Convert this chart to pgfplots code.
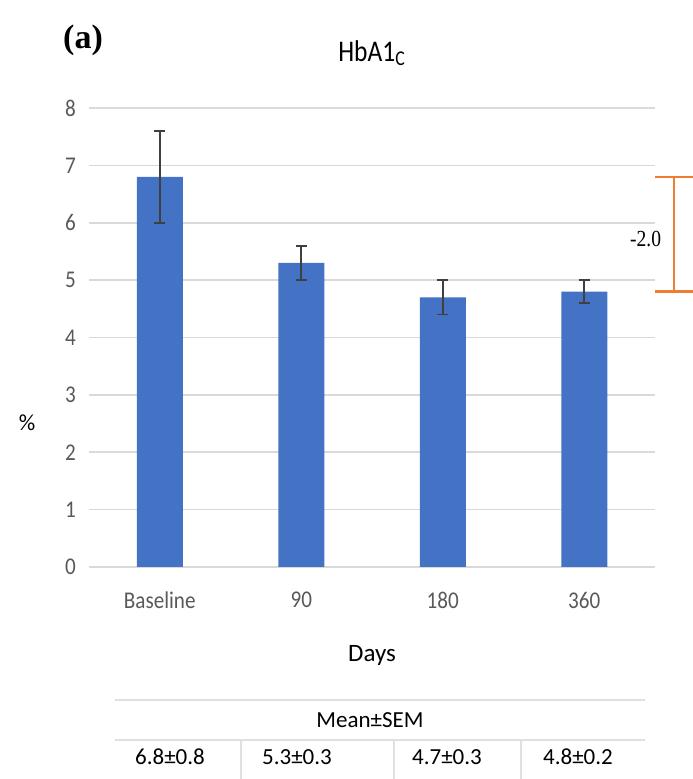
\documentclass[border=0pt]{standalone}
\usepackage{fontspec}
\setmainfont{Carlito}
\newfontfamily\timesfont{Liberation Serif}
\usepackage{pgfplots}
\pgfplotsset{compat=1.18}
\definecolor{barblue}{HTML}{4472C4}
\definecolor{gridgray}{HTML}{D9D9D9}
\definecolor{tickgray}{HTML}{595959}
\definecolor{errgray}{HTML}{404040}
\definecolor{bracketorange}{HTML}{ED7D31}
\definecolor{tablegray}{HTML}{E0E0E0}
\begin{document}
\begin{tikzpicture}[x=1pt,y=1pt]
\path[use as bounding box] (0,0) rectangle (346,389.5);
\begin{axis}[
  at={(44.5pt,106pt)}, anchor=south west,
  scale only axis, width=283pt, height=229.5pt,
  xmin=-0.5, xmax=3.5, ymin=0, ymax=8,
  xtick={0,1,2,3}, xticklabels={Baseline,90,180,360},
  ytick={0,1,...,8},
  major tick length=0pt,
  axis line style={draw=none},
  ymajorgrids, grid style={gridgray, line width=0.8pt},
  /pgf/number format/assume math mode=true,
  tick label style={font=\fontsize{12}{13}\selectfont, text=tickgray, xscale=0.88},
  yticklabel style={xshift=-4pt},
  xticklabel style={yshift=-9pt},
  title={HbA1\textsubscript{C}},
  title style={at={(0.5,1)}, anchor=center, yshift=21.5pt, font=\fontsize{15}{16}\selectfont, xscale=0.85},
  xlabel={Days},
  every axis x label/.style={at={(rel axis cs:0.5,0)}, anchor=center, yshift=-44pt, font=\fontsize{12.5}{14}\selectfont},
  ylabel={\%},
  every axis y label/.style={at={(rel axis cs:0,0.314)}, anchor=center, xshift=-31pt, font=\fontsize{11.5}{13}\selectfont},
  clip=false,
]
\addplot[ybar, bar width=23pt, fill=barblue, draw=none,
  error bars/.cd, y dir=both, y explicit,
  error bar style={color=errgray, line width=0.85pt},
  error mark options={rotate=90, mark size=2.8pt, line width=0.85pt, color=errgray}]
  coordinates {
  (0,6.8) +- (0,0.8)
  (1,5.3) +- (0,0.3)
  (2,4.7) +- (0,0.3)
  (3,4.8) +- (0,0.2)
  };
\draw[bracketorange, line width=1.1pt] (axis cs:3.5,6.8) -- (axis cs:3.8,6.8);
\draw[bracketorange, line width=1.1pt] (axis cs:3.5,4.8) -- (axis cs:3.8,4.8);
\draw[bracketorange, line width=1.1pt] (axis cs:3.634,6.8) -- (axis cs:3.634,4.8);
\node[anchor=east, font=\timesfont\fontsize{11.5}{13}\selectfont, inner sep=0pt, xscale=0.85] at (axis cs:3.545,5.72) {-2.0};
\end{axis}
\node[font=\timesfont\bfseries\fontsize{17}{19}\selectfont] at (41.5,369.5) {(a)};
% table below the chart
\draw[tablegray, line width=0.8pt] (57.5,39.5) -- (322.5,39.5);
\draw[tablegray, line width=0.8pt] (57.5,19.5) -- (322.5,19.5);
\foreach \xx in {120.5,197,260.5} \draw[tablegray, line width=0.8pt] (\xx,19.5) -- (\xx,0);
\node[font=\fontsize{11.5}{13}\selectfont] at (185,29.5) {Mean±SEM};
\node[font=\fontsize{11.5}{13}\selectfont] at (85,11) {6.8±0.8};
\node[font=\fontsize{11.5}{13}\selectfont] at (148.5,11) {5.3±0.3};
\node[font=\fontsize{11.5}{13}\selectfont] at (223.5,11) {4.7±0.3};
\node[font=\fontsize{11.5}{13}\selectfont] at (289,11) {4.8±0.2};
\end{tikzpicture}
\end{document}
